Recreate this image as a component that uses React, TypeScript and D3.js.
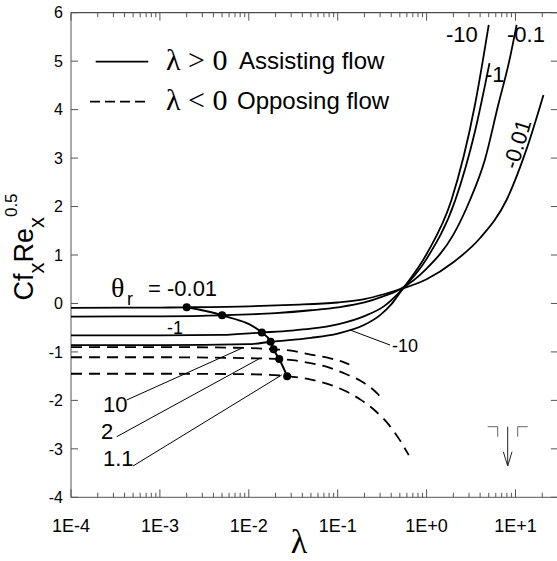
import React from 'react';
import * as d3 from 'd3';

// ---- data ----
// assisting flow (lambda > 0), one curve per theta_r
const lamA001 = [1e-4, 1e-3, 2e-3, 0.01, 0.03, 0.1, 0.2, 0.33, 0.5, 1, 2, 4, 7.9, 13.4, 20.6];
const cfA001 = [-0.09, -0.085, -0.08, -0.06, -0.03, 0.02, 0.09, 0.19, 0.29, 0.5, 0.85, 1.35, 2.13, 3.2, 4.3];

const lamA01 = [1e-4, 1e-3, 5e-3, 0.02, 0.05, 0.1, 0.2, 0.33, 0.5, 1, 2, 3.07, 4.5, 6.4, 8.5, 10.3];
const cfA01 = [-0.27, -0.265, -0.245, -0.2, -0.14, -0.08, 0.02, 0.15, 0.29, 0.72, 1.42, 2.13, 2.95, 4.1, 5.0, 5.75];

const lamA1 = [1e-4, 1e-3, 5e-3, 0.014, 0.03, 0.05, 0.1, 0.2, 0.33, 0.5, 1, 2.1, 3.5, 5.1];
const cfA1 = [-0.66, -0.66, -0.65, -0.6, -0.56, -0.52, -0.43, -0.26, -0.06, 0.24, 0.92, 2.13, 3.55, 4.96];

const lamA10 = [1e-4, 1e-3, 0.01, 0.0176, 0.05, 0.1, 0.2, 0.3, 0.4, 0.5, 1, 1.9, 3.5, 5.0];
const cfA10 = [-0.86, -0.86, -0.84, -0.79, -0.71, -0.62, -0.44, -0.24, -0.02, 0.22, 1.02, 2.13, 4.1, 5.75];

// opposing flow (lambda < 0), plotted against |lambda|
const lamO10 = [1e-4, 1e-3, 0.01, 0.019, 0.03, 0.048, 0.077, 0.12, 0.135];
const cfO10 = [-0.9, -0.9, -0.92, -0.946, -0.975, -1.05, -1.12, -1.22, -1.26];

const lamO2 = [1e-4, 1e-3, 0.01, 0.022, 0.031, 0.049, 0.079, 0.125, 0.186, 0.28, 0.3];
const cfO2 = [-1.11, -1.11, -1.13, -1.146, -1.17, -1.23, -1.32, -1.46, -1.61, -1.86, -1.92];

const lamO11 = [1e-4, 1e-3, 0.01, 0.027, 0.05, 0.08, 0.117, 0.186, 0.27, 0.375, 0.5, 0.63];
const cfO11 = [-1.45, -1.45, -1.46, -1.5, -1.57, -1.67, -1.79, -2.0, -2.23, -2.5, -2.82, -3.13];

// critical points joined by the thick line
const lamDots = [0.002, 0.005, 0.014, 0.0176, 0.019, 0.022, 0.027];
const cfDots = [-0.08, -0.245, -0.6, -0.79, -0.946, -1.146, -1.5];

const xTickLabels = ['1E-4', '1E-3', '1E-2', '1E-1', '1E+0', '1E+1'];
const yTicks = [-4, -3, -2, -1, 0, 1, 2, 3, 4, 5, 6];

const W = 557;
const H = 561;

const x = d3.scaleLog().domain([1e-4, 30]).range([71, 71 + 88.9 * Math.log10(3e5)]);
const y = d3.scaleLinear().domain([-4, 6]).range([497.3, 12.7]);

const line = d3
  .line<[number, number]>()
  .x(d => x(d[0]))
  .y(d => y(d[1]))
  .curve(d3.curveMonotoneX);

const zip = (a: number[], b: number[]) => a.map((v, i) => [v, b[i]] as [number, number]);

const SANS = '"Liberation Sans", Arial, sans-serif';
const SERIF = '"Liberation Serif", "Times New Roman", serif';
const AX = '#555';

export default function App() {
  const [x0, x1] = x.range();
  const yTop = y(6);
  const yBot = y(-4);

  const majors = d3.range(-4, 2).map(k => Math.pow(10, k));
  const minors: number[] = [];
  d3.range(-4, 2).forEach(k => {
    for (let m = 2; m <= 9; m++) {
      const v = m * Math.pow(10, k);
      if (v <= 30) minors.push(v);
    }
  });

  const solid = [zip(lamA001, cfA001), zip(lamA01, cfA01), zip(lamA1, cfA1), zip(lamA10, cfA10)];
  const dashed = [zip(lamO10, cfO10), zip(lamO2, cfO2), zip(lamO11, cfO11)];
  const dots = zip(lamDots, cfDots);

  return (
    <svg width={W} height={H} style={{ position: 'absolute', left: 0, top: 0, background: '#fff' }}>
      {/* frame */}
      <line x1={x0} x2={x0} y1={yTop} y2={yBot} stroke={AX} />
      <line x1={x0} x2={x1} y1={yBot} y2={yBot} stroke={AX} />
      <line x1={x0} x2={x1} y1={yTop} y2={yTop} stroke="#222" />
      <line x1={x1} x2={x1} y1={yTop} y2={yBot} stroke={AX} />

      {/* x ticks, inward, top and bottom */}
      {majors.map((v, i) => (
        <g key={'M' + i}>
          <line x1={x(v)} x2={x(v)} y1={yBot} y2={yBot - 8} stroke={AX} />
          <line x1={x(v)} x2={x(v)} y1={yTop} y2={yTop + 8} stroke={AX} />
          <text x={x(v)} y={531.5} fontSize={18} fontFamily={SANS} textAnchor="middle">
            {xTickLabels[i]}
          </text>
        </g>
      ))}
      {minors.map((v, i) => (
        <g key={'m' + i}>
          <line x1={x(v)} x2={x(v)} y1={yBot} y2={yBot - 4.5} stroke={AX} />
          <line x1={x(v)} x2={x(v)} y1={yTop} y2={yTop + 4.5} stroke={AX} />
        </g>
      ))}

      {/* y ticks */}
      {yTicks.map(v => (
        <g key={'y' + v}>
          <line x1={x0} x2={x0 + 7} y1={y(v)} y2={y(v)} stroke={AX} />
          <line x1={x1} x2={x1 - 7} y1={y(v)} y2={y(v)} stroke={AX} />
          <text x={63} y={y(v)} dy="0.36em" fontSize={16} fontFamily={SANS} textAnchor="end">
            {v}
          </text>
        </g>
      ))}

      {/* axis titles */}
      <text x={299} y={553} fontSize={34} fontFamily={SERIF} textAnchor="middle">λ</text>
      <text transform="translate(33,247) rotate(-90)" fontFamily={SANS} fontSize={27} textAnchor="middle">
        <tspan>Cf</tspan>
        <tspan fontSize={22} dy={11}>x</tspan>
        <tspan dy={-11}>Re</tspan>
        <tspan fontSize={22} dy={11}>x</tspan>
        <tspan fontSize={17} dy={-27}>0.5</tspan>
      </text>

      {/* curves */}
      {solid.map((d, i) => (
        <path key={'s' + i} d={line(d) || ''} fill="none" stroke="#000" strokeWidth={1.8} />
      ))}
      {dashed.map((d, i) => (
        <path key={'d' + i} d={line(d) || ''} fill="none" stroke="#000" strokeWidth={1.8} strokeDasharray="11,7" />
      ))}
      <path d={line(dots) || ''} fill="none" stroke="#000" strokeWidth={2} />
      {dots.map((d, i) => (
        <circle key={'c' + i} cx={x(d[0])} cy={y(d[1])} r={4} fill="#000" />
      ))}

      {/* legend */}
      <line x1={95.7} x2={148.3} y1={61.7} y2={61.7} stroke="#000" strokeWidth={1.8} />
      <line x1={90} x2={145} y1={101.7} y2={101.7} stroke="#000" strokeWidth={1.8} strokeDasharray="10,5" />
      <text x={166} y={70} fontSize={30} fontFamily={SERIF}>λ &gt; 0</text>
      <text x={239} y={69} fontSize={24} fontFamily={SANS}>Assisting flow</text>
      <text x={166} y={110} fontSize={30} fontFamily={SERIF}>λ &lt; 0</text>
      <text x={237} y={109} fontSize={24} fontFamily={SANS}>Opposing flow</text>

      {/* theta_r labels */}
      <text x={446} y={41.5} fontSize={22} fontFamily={SANS}>-10</text>
      <text x={507} y={41.5} fontSize={22} fontFamily={SANS}>-0.1</text>
      <text x={485} y={82} fontSize={22} fontFamily={SANS}>-1</text>
      <text transform="translate(517,144) rotate(-73)" fontSize={22} fontFamily={SANS} textAnchor="middle" dy="0.35em">
        -0.01
      </text>
      <text x={111} y={297} fontSize={28} fontFamily={SERIF}>θ</text>
      <text x={127} y={305} fontSize={18} fontFamily={SANS}>r</text>
      <text x={148} y={296} fontSize={22} fontFamily={SANS}>= -0.01</text>
      <text x={167} y={334} fontSize={18} fontFamily={SANS}>-1</text>
      <line x1={350} y1={330} x2={390} y2={345} stroke="#000" strokeWidth={1} />
      <text x={392} y={352} fontSize={18} fontFamily={SANS}>-10</text>

      {/* opposing-flow labels */}
      <line x1={126.7} y1={400} x2={241.7} y2={348.3} stroke="#000" strokeWidth={1} />
      <line x1={116.7} y1={436.7} x2={260} y2={358.3} stroke="#000" strokeWidth={1} />
      <line x1={133} y1={466} x2={281.7} y2={375} stroke="#000" strokeWidth={1} />
      <text x={103} y={412} fontSize={22} fontFamily={SANS}>10</text>
      <text x={101} y={439} fontSize={22} fontFamily={SANS}>2</text>
      <text x={103} y={466} fontSize={22} fontFamily={SANS}>1.1</text>

      {/* gravity symbol */}
      <path d="M487.7,426.7 H497.7 V436.7 M517.7,436.7 V426.7 H527.7" fill="none" stroke="#666" strokeWidth={1} />
      <path d="M507.7,426.7 V466 M503.3,451.7 L507.7,466 L512,451.7" fill="none" stroke="#222" strokeWidth={1} />
    </svg>
  );
}
